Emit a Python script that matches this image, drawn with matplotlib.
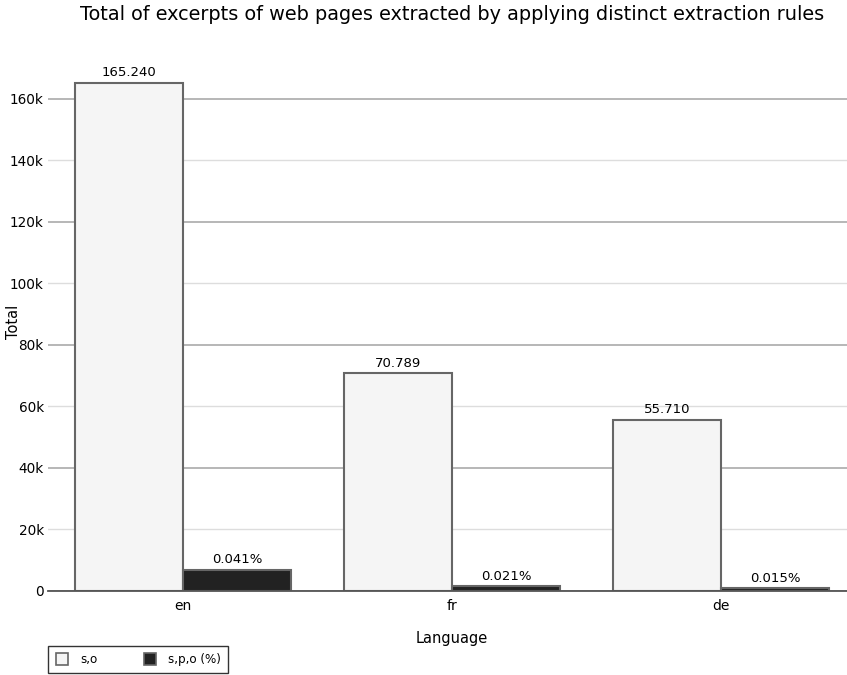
import matplotlib
matplotlib.use("Agg")
import matplotlib.pyplot as plt
from matplotlib.lines import Line2D
from matplotlib.ticker import FuncFormatter, MultipleLocator
import numpy as np

# Excerpts per language, and the share with subject/predicate/object
languages = ["en", "fr", "de"]
so_totals = [165240, 70789, 55710]
spo_share = [0.041, 0.021, 0.015]

so_color = "#f5f5f5"
spo_color = "#222222"
edge_color = "#666666"


def thousands(v):
    return f"{v:,.0f}".replace(",", ".")


def k_format(v, pos):
    return "0" if v == 0 else f"{int(v / 1000)}k"


fig = plt.figure(figsize=(8.47, 6.75), dpi=100)
ax = fig.add_axes([48 / 847, 1 - 591 / 675, 1 - 48 / 847, (591 - 62) / 675])

x = np.arange(len(languages))
width = 0.4
so = np.array(so_totals)
spo = so * np.array(spo_share)

ax.bar(x - width / 2, so, width, color=so_color, edgecolor=edge_color, linewidth=1.5, zorder=3)
ax.bar(x + width / 2, spo, width, color=spo_color, edgecolor=edge_color, linewidth=1.5, zorder=3)

for xi, v in zip(x, so):
    ax.text(xi - width / 2, v + 1200, thousands(v), ha="center", va="bottom", fontsize=9.5)
for xi, v, p in zip(x, spo, spo_share):
    ax.text(xi + width / 2, v + 1200, f"{p:.3f}%", ha="center", va="bottom", fontsize=9.5)

ax.set_xlim(-0.502, 2.468)
ax.set_ylim(0, 172000)
ax.set_xticks(x)
ax.set_xticklabels(languages, fontsize=10)
ax.yaxis.set_major_locator(MultipleLocator(40000))
ax.yaxis.set_minor_locator(MultipleLocator(20000))
ax.yaxis.set_major_formatter(FuncFormatter(k_format))
ax.yaxis.set_minor_formatter(FuncFormatter(k_format))
ax.tick_params(axis="y", which="both", length=0, pad=3, labelsize=9.8)
ax.tick_params(axis="x", length=0, pad=6)
ax.grid(axis="y", which="major", color="#aaaaaa", linewidth=1.2, zorder=0)
ax.grid(axis="y", which="minor", color="#dddddd", linewidth=1, zorder=0)

for side in ["top", "right", "left"]:
    ax.spines[side].set_visible(False)
ax.spines["bottom"].set_color("#555555")
ax.spines["bottom"].set_linewidth(1.3)
ax.spines["bottom"].set_zorder(4)

fig.text(452 / 847, 1 - 639 / 675, "Language", ha="center", va="center", fontsize=10.5)
fig.text(14 / 847, 1 - 322 / 675, "Total", rotation=90, ha="center", va="center", fontsize=10.5)
fig.text(452 / 847, 1 - 15 / 675, "Total of excerpts of web pages extracted by applying distinct extraction rules",
         ha="center", va="center", fontsize=13.9)

handles = [
    Line2D([], [], linestyle="none", marker="s", markersize=8, markerfacecolor=so_color,
           markeredgecolor=edge_color, markeredgewidth=1.2, label="s,o"),
    Line2D([], [], linestyle="none", marker="s", markersize=8, markerfacecolor=spo_color,
           markeredgecolor=edge_color, markeredgewidth=1.2, label="s,p,o (%)"),
]
leg = fig.legend(handles=handles, loc="lower left", bbox_to_anchor=(48 / 847, 1 - 673 / 675),
                 ncol=2, fontsize=8.6, frameon=True, fancybox=False, edgecolor="black",
                 columnspacing=3.8, handletextpad=0.9, borderpad=0.6, handlelength=1.2,
                 borderaxespad=0)
leg.get_frame().set_linewidth(1)

fig.savefig("out.png", dpi=100)
